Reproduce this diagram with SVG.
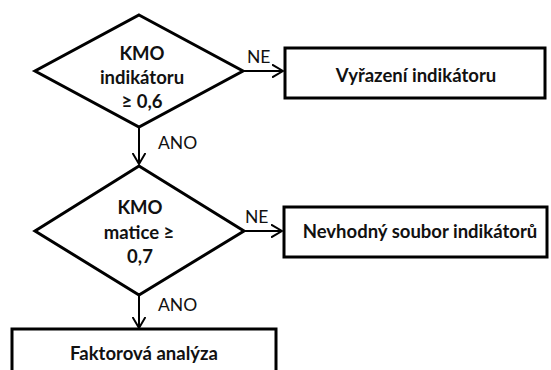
<svg xmlns="http://www.w3.org/2000/svg" width="551" height="370" viewBox="0 0 551 370">
<defs>
<style>
.shape{fill:#fff;stroke:#000;stroke-width:3;stroke-linejoin:miter}
.t{font-family:Lato,"Liberation Sans",sans-serif;font-weight:bold;font-size:18.5px;fill:#111;text-anchor:middle}
.lbl{font-family:Lato,"Liberation Sans",sans-serif;font-size:17.5px;fill:#111}
.conn{fill:none;stroke:#000;stroke-width:2}
</style>
<marker id="arr" viewBox="0 0 12 14" refX="11" refY="7" markerWidth="12" markerHeight="14" markerUnits="userSpaceOnUse" orient="auto">
<path d="M0,0.5 L11,7 L0,13.5" fill="none" stroke="#000" stroke-width="2"/>
</marker>
</defs>
<rect width="551" height="370" fill="#fff"/>
<g id="connectors">
<line class="conn" x1="139" y1="127" x2="139" y2="164" marker-end="url(#arr)"/>
<line class="conn" x1="243" y1="71" x2="283" y2="71" marker-end="url(#arr)"/>
<line class="conn" x1="139" y1="294" x2="139" y2="328" marker-end="url(#arr)"/>
<line class="conn" x1="244" y1="231" x2="282" y2="231" marker-end="url(#arr)"/>
<text class="lbl" x="247" y="63">NE</text>
<text class="lbl" x="158" y="149">ANO</text>
<text class="lbl" x="245" y="223">NE</text>
<text class="lbl" x="158" y="311">ANO</text>
</g>
<g id="kmo-indikatoru">
<polygon class="shape" points="139,15 243,71 139,127 35,71"/>
<text class="t" x="142" y="60">KMO</text>
<text class="t" x="142" y="84">indikátoru</text>
<text class="t" x="142" y="108">≥ 0,6</text>
</g>
<g id="vyrazeni">
<rect class="shape" x="285" y="48" width="260" height="50"/>
<text class="t" x="416" y="82">Vyřazení indikátoru</text>
</g>
<g id="kmo-matice">
<polygon class="shape" points="139,166 244,231 139,295 35,231"/>
<text class="t" x="140" y="214">KMO</text>
<text class="t" x="139" y="239">matice ≥</text>
<text class="t" x="140" y="263">0,7</text>
</g>
<g id="nevhodny">
<rect class="shape" x="284" y="207" width="263" height="50"/>
<text class="t" x="420" y="238">Nevhodný soubor indikátorů</text>
</g>
<g id="faktorova">
<rect class="shape" x="12" y="329" width="264" height="60"/>
<text class="t" x="144" y="360">Faktorová analýza</text>
</g>
</svg>
